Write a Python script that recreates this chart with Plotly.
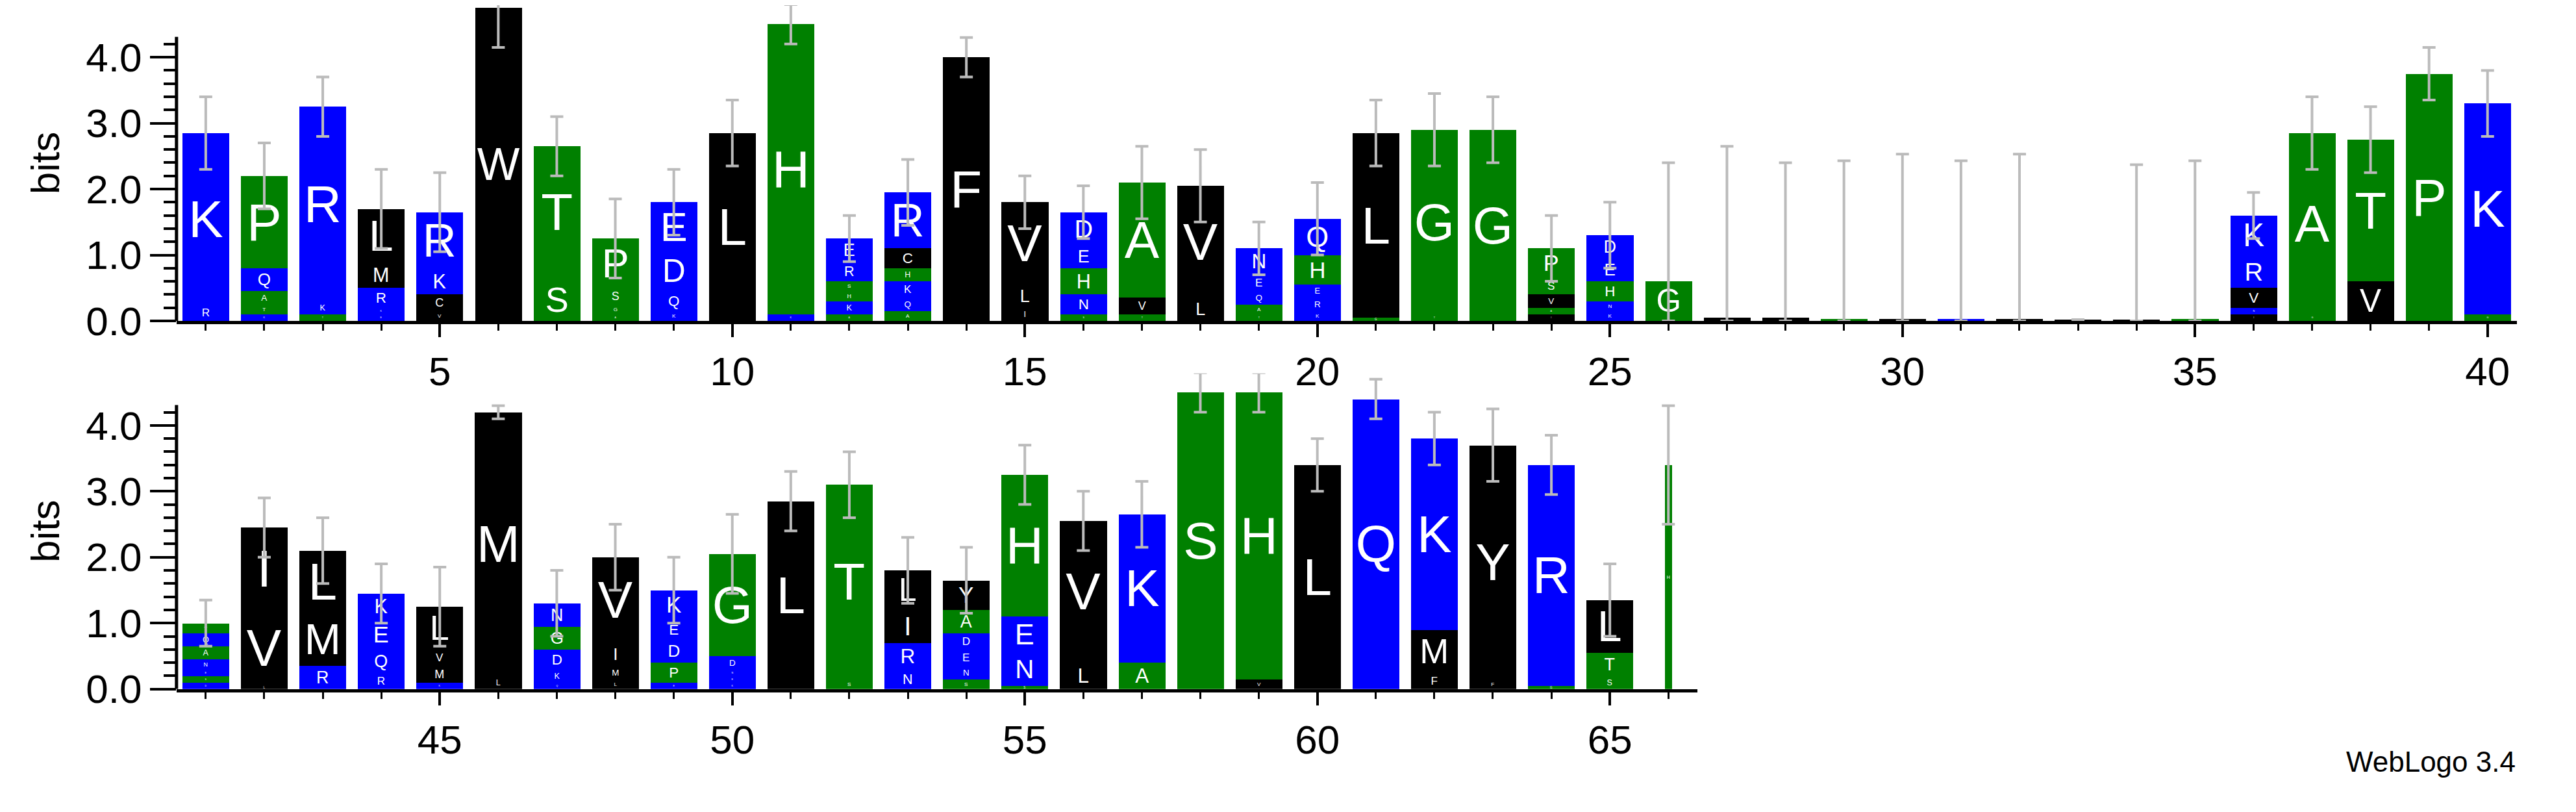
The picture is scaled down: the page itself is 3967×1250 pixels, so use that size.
import plotly.graph_objects as go

# Each position: list of (letter, bits) from bottom to top
top_positions = list(range(1, 41))
top_stacks = [
    [("R", .25), ("K", 2.6)],
    [("K", .1), ("T", .15), ("A", .2), ("Q", .35), ("P", 1.4)],
    [("T", .1), ("K", .2), ("R", 2.95)],
    [("E", .1), ("K", .1), ("R", .3), ("M", .4), ("L", .8)],
    [("V", .15), ("C", .25), ("K", .4), ("R", .85)],
    [("W", 4.75)],
    [("S", .65), ("T", 2.0)],
    [("A", .1), ("G", .15), ("S", .25), ("P", .75)],
    [("K", .15), ("Q", .3), ("D", .6), ("E", .75)],
    [("L", 2.85)],
    [("K", .1), ("H", 4.4)],
    [("A", .1), ("K", .2), ("H", .15), ("S", .15), ("R", .3), ("E", .35)],
    [("A", .15), ("Q", .2), ("K", .25), ("H", .2), ("C", .3), ("R", .85)],
    [("F", 4.0)],
    [("I", .2), ("L", .35), ("V", 1.25)],
    [("S", .1), ("N", .3), ("H", .4), ("E", .35), ("D", .5)],
    [("T", .1), ("V", .25), ("A", 1.75)],
    [("L", .35), ("V", 1.7)],
    [("T", .1), ("A", .15), ("Q", .2), ("E", .25), ("N", .4)],
    [("K", .15), ("R", .2), ("E", .2), ("H", .45), ("Q", .55)],
    [("G", .05), ("L", 2.8)],
    [("T", .1), ("G", 2.8)],
    [("G", 2.9)],
    [("I", .1), ("A", .1), ("V", .2), ("S", .25), ("P", .45)],
    [("K", .15), ("N", .15), ("H", .3), ("E", .35), ("D", .35)],
    [("G", .6)], [("L", .05)], [("L", .05)], [("G", .03)], [("L", .03)],
    [("K", .03)], [("L", .03)], [("L", .02)], [("L", .02)], [("G", .03)],
    [("I", .1), ("N", .1), ("V", .3), ("R", .5), ("K", .6)],
    [("G", .1), ("A", 2.75)],
    [("V", .6), ("T", 2.15)],
    [("P", 3.75)],
    [("G", .1), ("K", 3.2)],
]
top_err = [.55, .5, .45, .6, .6, .6, .45, .6, .5, .5, .3, .35, .5, .3, .4, .4, .55, .55, .4, .55,
           .5, .55, .5, .5, .5, 1.8, 2.6, 2.35, 2.4, 2.5, 2.4, 2.5, 0, 2.35, 2.4, .35, .55, .5, .4, .5]

bottom_positions = list(range(41, 67))
bottom_stacks = [
    [("D", .1), ("S", .1), ("E", .1), ("N", .15), ("A", .2), ("Q", .2), ("T", .15)],
    [("L", .05), ("V", 1.15), ("I", 1.25)],
    [("R", .35), ("M", .8), ("L", .95)],
    [("R", .25), ("Q", .35), ("E", .45), ("K", .4)],
    [("K", .1), ("M", .25), ("V", .25), ("L", .65)],
    [("L", .2), ("M", 4.0)],
    [("Q", .1), ("K", .2), ("D", .3), ("G", .35), ("N", .35)],
    [("L", .15), ("M", .2), ("I", .35), ("V", 1.3)],
    [("E", .1), ("P", .3), ("D", .35), ("E", .3), ("K", .45)],
    [("K", .1), ("E", .1), ("N", .1), ("D", .2), ("G", 1.55)],
    [("L", 2.85)],
    [("S", .15), ("T", 2.95)],
    [("N", .3), ("R", .4), ("I", .5), ("L", .6)],
    [("S", .15), ("N", .2), ("E", .25), ("D", .25), ("A", .35), ("Y", .45)],
    [("S", .05), ("N", .5), ("E", .55), ("H", 2.15)],
    [("L", .4), ("V", 2.15)],
    [("A", .4), ("K", 2.25)],
    [("S", 4.5)],
    [("V", .15), ("H", 4.35)],
    [("L", 3.4)],
    [("Q", 4.4)],
    [("F", .25), ("M", .65), ("K", 2.9)],
    [("F", .15), ("Y", 3.55)],
    [("G", .05), ("R", 3.35)],
    [("S", .2), ("T", .35), ("L", .8)],
    [("H", 3.4)],
]
bottom_err = [.35, .45, .5, .45, .6, .1, .5, .5, .5, .6, .45, .5, .5, .5, .45, .45, .5, .3, .3, .4,
              .3, .4, .55, .45, .55, .9]
bottom_widths = [0.8] * 25 + [0.12]

y_ticks = [0.0, 1.0, 2.0, 3.0, 4.0]
y_minor = [0.2, 0.4, 0.6, 0.8, 1.2, 1.4, 1.6, 1.8, 2.2, 2.4, 2.6, 2.8, 3.2, 3.4, 3.6, 3.8, 4.2]
y_axis_top = 4.31

GREEN = set("HPAGTS")
BLUE = set("KRDENQ")


def color_of(letter):
    if letter in GREEN:
        return "#008000"
    if letter in BLUE:
        return "#0000ff"
    return "#000000"


fig = go.Figure()


def add_logo(positions, stacks, errs, xa, ya, widths=None):
    xs, ys, bases, cols, txt, ws = [], [], [], [], [], []
    tops = []
    for i, (p, st) in enumerate(zip(positions, stacks)):
        b = 0.0
        for letter, h in st:
            xs.append(p); ys.append(h); bases.append(b)
            cols.append(color_of(letter)); txt.append(letter)
            ws.append(widths[i] if widths else 0.8)
            b += h
        tops.append(b)
    fig.add_trace(go.Bar(x=xs, y=ys, base=bases, width=ws, marker=dict(color=cols, line=dict(width=0)),
                         text=txt, textposition="inside", insidetextanchor="middle", textangle=0,
                         insidetextfont=dict(color="white", family="Liberation Sans", size=80),
                         cliponaxis=False, xaxis=xa, yaxis=ya, showlegend=False))
    fig.add_trace(go.Scatter(x=positions, y=tops, mode="markers", marker=dict(size=1, color="rgba(0,0,0,0)"),
                             error_y=dict(type="data", array=errs, arrayminus=[min(e, t) for e, t in zip(errs, tops)],
                                          color="#bbbbbb", thickness=4, width=10),
                             xaxis=xa, yaxis=ya, showlegend=False, cliponaxis=False))
    fig.add_shape(type="line", xref=f"{xa} domain", yref=ya, x0=0, x1=0, y0=0, y1=y_axis_top,
                  line=dict(color="black", width=5))


add_logo(top_positions, top_stacks, top_err, "x", "y")
add_logo(bottom_positions, bottom_stacks, bottom_err, "x2", "y2", bottom_widths)

font = dict(family="Liberation Sans, Arial, sans-serif", size=62, color="black")
xcommon = dict(showline=True, linewidth=5, linecolor="black", ticks="outside", ticklen=20, tickwidth=4,
               tickcolor="black", dtick=5, tickfont=font, showgrid=False, zeroline=False,
               minor=dict(dtick=1, ticks="outside", ticklen=10, tickwidth=3, tickcolor="black"))
ycommon = dict(showline=False, ticks="outside", ticklen=40, tickwidth=4,
               tickcolor="black", tickvals=y_ticks, tickformat=".1f", tickfont=font, showgrid=False, zeroline=False,
               range=[0, 4.79], title=dict(text="bits", font=font, standoff=20),
               minor=dict(tickvals=y_minor, ticks="outside", ticklen=19, tickwidth=4, tickcolor="black"))

fig.update_layout(
    width=3967, height=1250, plot_bgcolor="white", paper_bgcolor="white",
    margin=dict(l=0, r=0, t=0, b=0), barmode="overlay", bargap=0,
    xaxis=dict(domain=[0.0665, 0.975], range=[0.5, 40.5], anchor="y", tick0=0, **xcommon),
    yaxis=dict(domain=[0.60, 1.0], anchor="x", **ycommon),
    xaxis2=dict(domain=[0.0665, 0.657], range=[40.5, 66.5], anchor="y2", tick0=0, **xcommon),
    yaxis2=dict(domain=[0.1336, 0.5336], anchor="x2", **ycommon),
    annotations=[dict(text="WebLogo 3.4", x=0.975, y=0.02, xref="paper", yref="paper",
                      xanchor="right", yanchor="bottom", showarrow=False,
                      font=dict(family="Liberation Sans, Arial, sans-serif", size=44, color="black"))],
)
fig.write_html("out.html")
